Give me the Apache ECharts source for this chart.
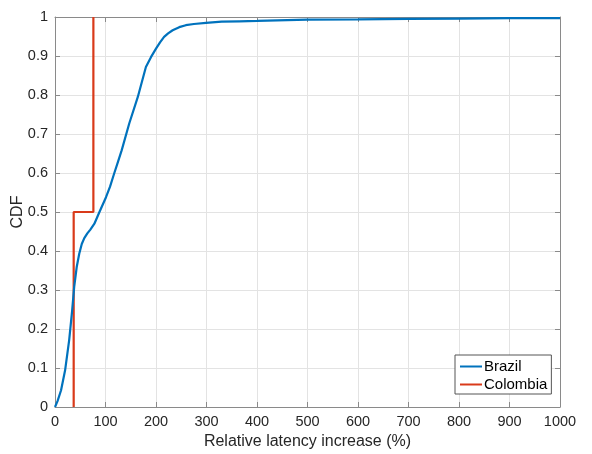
<!DOCTYPE html>
<html>
<head>
<meta charset="utf-8">
<script src="https://cdn.jsdelivr.net/npm/echarts@6/dist/echarts.min.js"></script>
<style>html,body{margin:0;padding:0;background:#fff;}#c{width:592px;height:454px;}</style>
</head>
<body>
<div id="c"></div>
<script>
const xTicks = [0,100,200,300,400,500,600,700,800,900,1000];
const yTicks = [0,0.1,0.2,0.3,0.4,0.5,0.6,0.7,0.8,0.9,1];
const brazilX = [0,5,12,20,28,34,38,43,48,53,58,64,70,78,88,101,109,117,125,132,147,164,180,190,200,208,216,224,233,246,259,275,299,330,365,400,500,600,700,800,900,1000];
const brazilY = [0,0.015,0.043,0.094,0.171,0.248,0.308,0.359,0.393,0.418,0.433,0.445,0.455,0.47,0.5,0.538,0.565,0.598,0.63,0.658,0.727,0.795,0.872,0.897,0.919,0.935,0.949,0.958,0.966,0.974,0.979,0.982,0.985,0.988,0.989,0.990,0.9935,0.994,0.995,0.996,0.997,0.997];
const colombiaX = [37,37,76,76];
const colombiaY = [0,0.5,0.5,1];

const pair = (xs, ys) => xs.map((x,i)=>[x, ys[i]]);
const axisCol = '#8a8a8a';
const txtCol = '#262626';
const font = 'Liberation Sans, Arial, Helvetica, sans-serif';

const chart = echarts.init(document.getElementById('c'), null, {renderer:'canvas'});
const xBase = {type:'value', min:0, max:1000, interval:100,
  axisLine:{show:true,onZero:false,lineStyle:{color:axisCol,width:1}},
  axisTick:{show:true,inside:true,length:5,lineStyle:{color:axisCol}},
  splitLine:{show:false}};
const yBase = {type:'value', min:0, max:1, interval:0.1,
  axisLine:{show:true,onZero:false,lineStyle:{color:axisCol,width:1}},
  axisTick:{show:true,inside:true,length:5,lineStyle:{color:axisCol}},
  splitLine:{show:false}};
chart.setOption({
  animation:false,
  backgroundColor:'#fff',
  grid:{left:55,right:32,top:17,bottom:47,containLabel:false,outerBoundsMode:'none'},
  xAxis:[
    Object.assign({}, xBase, {position:'bottom',
      name:'Relative latency increase (%)', nameLocation:'middle', nameGap:27, nameMoveOverlap:false,
      nameTextStyle:{color:txtCol,fontSize:16,fontFamily:font},
      axisLabel:{color:txtCol,fontSize:14.5,fontFamily:font,margin:7,
        formatter:v=>xTicks.includes(v)?String(v):''},
      splitLine:{show:true,lineStyle:{color:'#e3e3e3',width:1}}}),
    Object.assign({}, xBase, {position:'top', axisLabel:{show:false}})
  ],
  yAxis:[
    Object.assign({}, yBase, {position:'left',
      name:'CDF', nameLocation:'middle', nameGap:29, nameMoveOverlap:false,
      nameTextStyle:{color:txtCol,fontSize:16,fontFamily:font},
      axisLabel:{color:txtCol,fontSize:14.5,fontFamily:font,margin:7,
        formatter:v=>{const t=yTicks.find(y=>Math.abs(y-v)<1e-9);return t===undefined?'':(t===0||t===1?String(t):t.toFixed(1));}},
      splitLine:{show:true,lineStyle:{color:'#e3e3e3',width:1}}}),
    Object.assign({}, yBase, {position:'right', axisLabel:{show:false}})
  ],
  legend:{
    orient:'vertical', left:455, top:355,
    backgroundColor:'#fff', borderColor:'#555', borderWidth:1,
    padding:[4,4,2,5], itemGap:3, itemWidth:22, itemHeight:2,
    textStyle:{color:'#000',fontSize:15,fontFamily:font,padding:[0,0,0,-3]},
    data:[{name:'Brazil',icon:'rect'},{name:'Colombia',icon:'rect'}]
  },
  series:[
    {name:'Brazil', type:'line', symbol:'none', smooth:false,
      data:pair(brazilX, brazilY), lineStyle:{color:'#0072BD',width:2.2}, itemStyle:{color:'#0072BD'}, z:3},
    {name:'Colombia', type:'line', symbol:'none',
      data:pair(colombiaX, colombiaY), lineStyle:{color:'#D93A1A',width:2.2}, itemStyle:{color:'#D93A1A'}, z:2}
  ]
});
</script>
</body>
</html>
